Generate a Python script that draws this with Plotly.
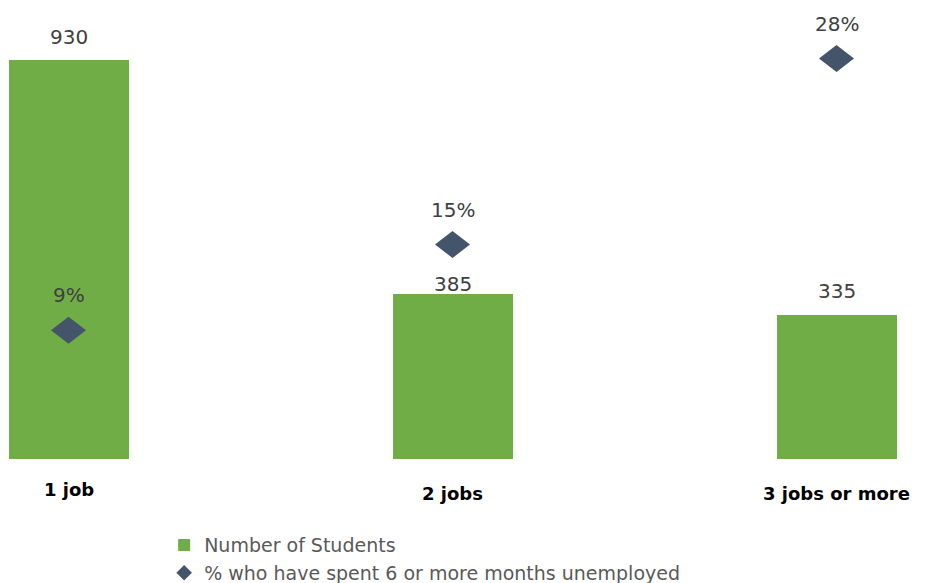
import plotly.graph_objects as go

categories = ["1 job", "2 jobs", "3 jobs or more"]
students = [930, 385, 335]
pct_unemployed = [9, 15, 28]
student_labels = ["930", "385", "335"]
pct_labels = ["9%", "15%", "28%"]

# style-only settings (pixels / axis units)
student_label_shift = [23, 10, 24]
pct_label_shift = 35
diamond_half_w = 0.0456   # x-axis units
diamond_half_h = 0.944    # y2-axis units

xpos = list(range(len(categories)))

fig = go.Figure()
fig.add_trace(go.Bar(
    x=xpos, y=students, name="Number of Students",
    marker=dict(color="#70AD47", line=dict(width=0)),
    width=0.3125, yaxis="y",
))
# legend entry for the diamond series; diamonds themselves drawn as shapes on y2
fig.add_trace(go.Scatter(
    x=[None], y=[None], name="% who have spent 6 or more months unemployed",
    mode="markers", yaxis="y2",
    marker=dict(symbol="diamond", size=11, color="#44546A", line=dict(width=0)),
))

shapes = []
for x, p in zip(xpos, pct_unemployed):
    path = (f"M {x - diamond_half_w},{p} L {x},{p + diamond_half_h} "
            f"L {x + diamond_half_w},{p} L {x},{p - diamond_half_h} Z")
    shapes.append(dict(type="path", path=path, xref="x", yref="y2",
                       fillcolor="#44546A", line=dict(width=0)))

ann = []
for i, x in enumerate(xpos):
    ann.append(dict(x=x, y=students[i], xref="x", yref="y", text=student_labels[i],
                    showarrow=False, yanchor="middle", yshift=student_label_shift[i],
                    font=dict(family="DejaVu Sans", size=20, color="#404040")))
    ann.append(dict(x=x, y=pct_unemployed[i], xref="x", yref="y2", text=pct_labels[i],
                    showarrow=False, yanchor="middle", yshift=pct_label_shift,
                    font=dict(family="DejaVu Sans", size=20, color="#404040")))
    ann.append(dict(x=x, y=0, xref="x", yref="y", text="<b>" + categories[i] + "</b>",
                    showarrow=False, yanchor="middle", yshift=-30 if i == 0 else -34,
                    font=dict(family="DejaVu Sans", size=18, color="#000000")))

x0 = -60.5 / 384
fig.update_layout(
    width=925, height=583,
    margin=dict(l=0, r=0, t=22, b=132, autoexpand=False),
    paper_bgcolor="white", plot_bgcolor="white",
    bargap=0,
    xaxis=dict(range=[x0, x0 + 925 / 384], showticklabels=False, showgrid=False,
               zeroline=False, showline=False, ticks=""),
    yaxis=dict(range=[0, 1000], visible=False, showgrid=False, zeroline=False),
    yaxis2=dict(range=[0, 30], overlaying="y", side="right", visible=False,
                showgrid=False, zeroline=False),
    showlegend=True,
    legend=dict(orientation="v", x=0.1688, xanchor="left", y=-0.1567, yanchor="top",
                font=dict(family="DejaVu Sans", size=19, color="#595959"),
                bgcolor="rgba(0,0,0,0)", itemsizing="constant", tracegroupgap=0,
                itemwidth=30),
    annotations=ann,
    shapes=shapes,
)

fig.write_html("out.html")
